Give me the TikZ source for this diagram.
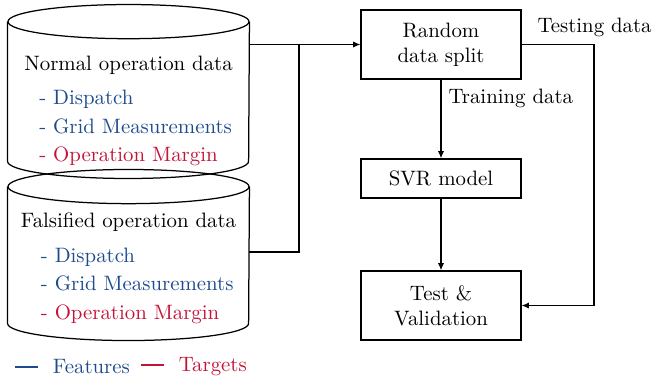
\documentclass[tikz,border=0pt]{standalone}
\usepackage{tikz}
\usetikzlibrary{arrows.meta,positioning,calc}
\definecolor{featblue}{RGB}{30,75,140}
\definecolor{targred}{RGB}{195,20,55}
\newcommand{\feat}[1]{\textcolor{featblue}{#1}}
\newcommand{\targ}[1]{\textcolor{targred}{#1}}
% cylinder outline round a named body node
\newcommand{\dbdraw}[1]{%
  \draw[semithick] (#1.north) ellipse [x radius=57.85pt, y radius=8.2pt];
  \draw[semithick] (#1.north west) -- (#1.south west)
    arc [start angle=180, end angle=360, x radius=57.85pt, y radius=8.2pt] -- (#1.north east);%
}
\tikzset{
  db/.style={rectangle, minimum width=115.7pt, inner sep=0pt},
  dbtext/.style={align=left, inner sep=0pt},
  proc/.style={rectangle, draw, semithick, minimum width=76.8pt, align=center},
  flow/.style={-{Latex[length=3.5pt,width=3pt]}, semithick},
}

\begin{document}
\begin{tikzpicture}[x=0.48pt, y=-0.48pt]
  \useasboundingbox (0,0) rectangle (652,381);

  % data sets
  \node[db, minimum height=66.7pt] (cyl1) at (128.5,91.5) {};
  \node[db, minimum height=65.3pt] (cyl2) at (128.5,255) {};
  \dbdraw{cyl1}
  \dbdraw{cyl2}
  \node[dbtext] (normtxt) at (128.5,111) {Normal operation data\\[4.3pt]
    \hspace*{7.2pt}\feat{- Dispatch}\\[1.5pt]
    \hspace*{7.2pt}\feat{- Grid Measurements}\\[1.5pt]
    \hspace*{7.2pt}\targ{- Operation Margin}};
  \node[dbtext] (falstxt) at (128.5,268) {Falsified operation data\\[5pt]
    \hspace*{9.6pt}\feat{- Dispatch}\\[1.5pt]
    \hspace*{9.6pt}\feat{- Grid Measurements}\\[1.5pt]
    \hspace*{9.6pt}\targ{- Operation Margin}};

  % processing
  \node[proc, minimum height=33.1pt] (split) at (441,44.5) {Random\\data split};
  \node[proc, minimum height=18.7pt] (svr) at (441,178.5) {SVR model};
  \node[proc, minimum height=33.1pt] (test) at (441,305.5) {Test \&\\Validation};

  \coordinate (merge) at (299,44.5);
  \coordinate (tbend) at (594,44.5);

  \draw[flow] (split.west -| cyl1.east) -- (split.west);
  \draw[semithick] ([yshift=1.5pt]cyl2.east) -| (merge);
  \draw[flow] (split) -- node[anchor=west, pos=0.24] {Training data} (svr);
  \draw[flow] (svr) -- (test);
  \draw[flow] (split.east) -- node[pos=0, above right, xshift=4pt] {Testing data} (tbend) |- (test.east);

  % legend
  \node[anchor=west] (legfeat) at (8.1,367) {\feat{\rule[3pt]{11pt}{0.7pt}\hspace{7pt}Features}};
  \node[right=-1.5pt of legfeat] (legtarg) {\targ{\rule[3pt]{11pt}{0.7pt}\hspace{7pt}Targets}};
\end{tikzpicture}
\end{document}
